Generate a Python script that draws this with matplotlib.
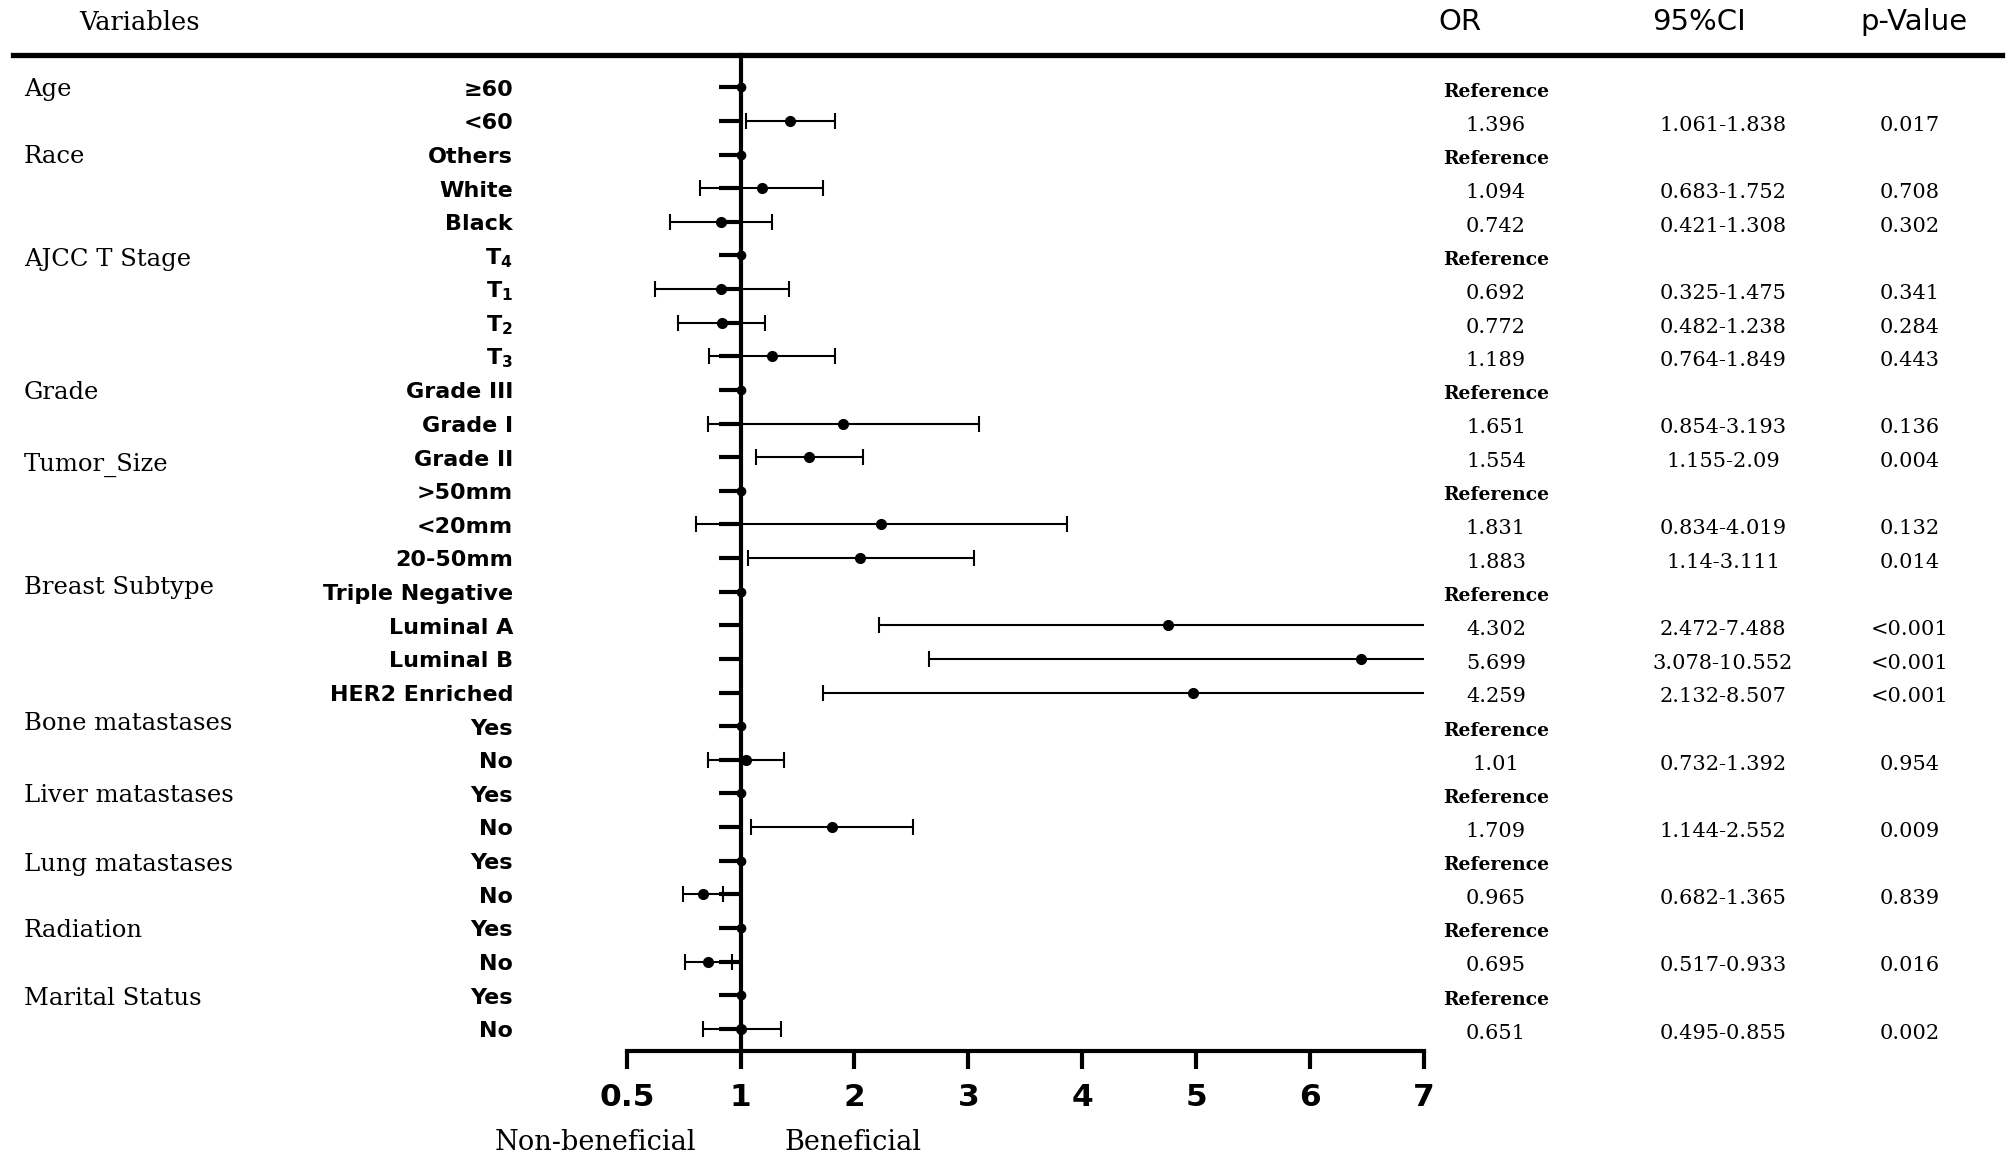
import numpy as np
import matplotlib
matplotlib.use("Agg")
import matplotlib.pyplot as plt
import matplotlib.transforms as mtransforms
from matplotlib.lines import Line2D

plt.rcParams['mathtext.fontset'] = 'dejavusans'

# rows, top to bottom
labels = ['≥60', '<60', 'Others', 'White', 'Black',
          r'$\mathbf{T_4}$', r'$\mathbf{T_1}$', r'$\mathbf{T_2}$', r'$\mathbf{T_3}$',
          'Grade III', 'Grade I', 'Grade II',
          '>50mm', '<20mm', '20-50mm',
          'Triple Negative', 'Luminal A', 'Luminal B', 'HER2 Enriched',
          'Yes', 'No', 'Yes', 'No', 'Yes', 'No', 'Yes', 'No', 'Yes', 'No']

# group names and the row they sit on (as drawn in the figure)
groups = ['Age', 'Race', 'AJCC T Stage', 'Grade', 'Tumor_Size', 'Breast Subtype',
          'Bone matastases', 'Liver matastases', 'Lung matastases', 'Radiation',
          'Marital Status']
group_rows = [0, 2, 5.04, 9, 11.17, 14.8, 18.86, 21.0, 23.03, 25.0, 27.02]

# plotted point / CI ends (nan = reference row)
nan = np.nan
est = [1, 1.435, 1, 1.184, 0.913, 1, 0.915, 0.917, 1.273, 1, 1.902, 1.604,
       1, 2.235, 2.047, 1, 4.757, 6.447, 4.974, 1, 1.049, 1, 1.806, 1, 0.835,
       1, 0.858, 1, 1.0]
low = [nan, 1.049, nan, 0.821, 0.688, nan, 0.623, 0.727, 0.863, nan, 0.858, 1.134,
       nan, 0.803, 1.064, nan, 2.22, 2.658, 1.725, nan, 0.858, nan, 1.09, nan, 0.747,
       nan, 0.757, nan, 0.833]
high = [nan, 1.830, nan, 1.722, 1.278, nan, 1.426, 1.215, 1.825, nan, 3.092, 2.073,
        nan, 3.864, 3.046, nan, 7.488, 10.552, 8.507, nan, 1.382, nan, 2.517, nan, 0.924,
        nan, 0.964, nan, 1.357]

# table columns
or_text = ['Reference', '1.396', 'Reference', '1.094', '0.742', 'Reference', '0.692',
           '0.772', '1.189', 'Reference', '1.651', '1.554', 'Reference', '1.831', '1.883',
           'Reference', '4.302', '5.699', '4.259', 'Reference', '1.01', 'Reference',
           '1.709', 'Reference', '0.965', 'Reference', '0.695', 'Reference', '0.651']
ci_text = ['', '1.061-1.838', '', '0.683-1.752', '0.421-1.308', '', '0.325-1.475',
           '0.482-1.238', '0.764-1.849', '', '0.854-3.193', '1.155-2.09', '',
           '0.834-4.019', '1.14-3.111', '', '2.472-7.488', '3.078-10.552', '2.132-8.507',
           '', '0.732-1.392', '', '1.144-2.552', '', '0.682-1.365', '', '0.517-0.933',
           '', '0.495-0.855']
p_text = ['', '0.017', '', '0.708', '0.302', '', '0.341', '0.284', '0.443', '',
          '0.136', '0.004', '', '0.132', '0.014', '', '<0.001', '<0.001', '<0.001', '',
          '0.954', '', '0.009', '', '0.839', '', '0.016', '', '0.002']

xticks = [0.5, 1, 2, 3, 4, 5, 6, 7]


def fwd(v):
    v = np.asarray(v, dtype=float)
    return np.where(v >= 1, v, 2 * v - 1)


def inv(u):
    u = np.asarray(u, dtype=float)
    return np.where(u >= 1, u, (u + 1) / 2)


W, H = 2007, 1161
fig = plt.figure(figsize=(W / 100, H / 100), dpi=100)
ax = fig.add_axes([626.7 / W, 1 - 1051 / H, (1423.8 - 626.7) / W, (1051 - 55) / H])
ax.set_xscale('function', functions=(fwd, inv))
ax.set_xlim(0.5, 7)
ax.set_ylim(28.66, -0.96)

rows = np.arange(len(labels))
est = np.array(est)
low = np.array(low)
high = np.array(high)
is_ref = np.isnan(low)

# estimates with CI
m = ~is_ref
ax.errorbar(est[m], rows[m], xerr=[est[m] - low[m], high[m] - est[m]],
            fmt='o', color='black', ms=7, elinewidth=1.5, capsize=5.5,
            capthick=1.5, zorder=3)
# reference dots
ax.plot(est[is_ref], rows[is_ref], 'o', color='black', ms=6, zorder=3, clip_on=False)

for s in ['top', 'right']:
    ax.spines[s].set_visible(False)
ax.spines['left'].set_position(('data', 1))
ax.spines['left'].set_linewidth(3)
ax.spines['bottom'].set_linewidth(3)

ax.set_yticks(rows)
ax.set_yticklabels([])
ax.tick_params(axis='y', direction='out', length=15.5, width=3)
ax.set_xticks(xticks)
ax.set_xticklabels([str(t) for t in xticks])
ax.tick_params(axis='x', direction='out', length=13, width=3, pad=10)
for lab in ax.get_xticklabels():
    lab.set_fontfamily('DejaVu Sans')
    lab.set_fontweight('bold')
    lab.set_fontsize(22.5)

trans = mtransforms.blended_transform_factory(fig.transFigure, ax.transData)

# category labels
for i, lab in enumerate(labels):
    ax.text(513 / W, i + 0.07, lab, transform=trans, ha='right', va='center',
            fontsize=16, fontweight='bold', family=['DejaVu Sans'])

# group labels
for g, r in zip(groups, group_rows):
    ax.text(24 / W, r + 0.07, g, transform=trans, ha='left', va='center',
            fontsize=17.5, family=['DejaVu Serif'])

# table
for i in rows:
    if or_text[i] == 'Reference':
        ax.text(1496 / W, i + 0.13, or_text[i], transform=trans, ha='center',
                va='center', fontsize=13.5, fontweight='bold', family=['DejaVu Serif'])
    else:
        ax.text(1496 / W, i + 0.13, or_text[i], transform=trans, ha='center',
                va='center', fontsize=15, family=['DejaVu Serif'])
    ax.text(1723 / W, i + 0.13, ci_text[i], transform=trans, ha='center',
            va='center', fontsize=15, family=['DejaVu Serif'])
    ax.text(1910 / W, i + 0.13, p_text[i], transform=trans, ha='center',
            va='center', fontsize=15, family=['DejaVu Serif'])

# header
fig.text(140 / W, 1 - 22 / H, 'Variables', ha='center', va='center',
         fontsize=18.5, family=['DejaVu Serif'])
fig.text(1460 / W, 1 - 22 / H, 'OR', ha='center', va='center',
         fontsize=21, family=['DejaVu Sans'])
fig.text(1699 / W, 1 - 22 / H, '95%CI', ha='center', va='center',
         fontsize=21, family=['DejaVu Sans'])
fig.text(1914 / W, 1 - 22 / H, 'p-Value', ha='center', va='center',
         fontsize=21, family=['DejaVu Sans'])
fig.add_artist(Line2D([13 / W, 2002 / W], [1 - 55 / H, 1 - 55 / H],
                      transform=fig.transFigure, color='black', lw=3.8))

# bottom captions
fig.text(595 / W, 1 - 1143 / H, 'Non-beneficial', ha='center', va='center',
         fontsize=19.5, family=['DejaVu Serif'])
fig.text(853 / W, 1 - 1143 / H, 'Beneficial', ha='center', va='center',
         fontsize=19.5, family=['DejaVu Serif'])

fig.savefig('out.png', dpi=100, facecolor='white')
